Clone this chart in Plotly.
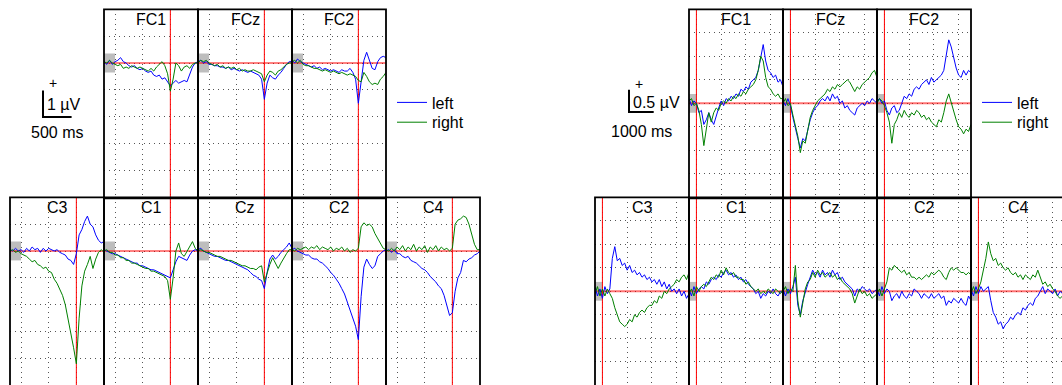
import plotly.graph_objects as go

# ---------------- data ----------------
# response-locked time axis (s)
T_RESP = [-1.2, -1.15, -1.1, -1.05, -1.0, -0.95, -0.9, -0.85, -0.8, -0.75, -0.7, -0.65,
          -0.6, -0.55, -0.5, -0.45, -0.4, -0.35, -0.3, -0.25, -0.2, -0.15, -0.1, -0.05,
          0.0, 0.05, 0.1, 0.15, 0.2, 0.25, 0.3, 0.35, 0.4, 0.45, 0.5]
# stimulus-locked time axis (s)
T_STIM = [-0.3, -0.2, -0.1, 0.0, 0.1, 0.2, 0.3, 0.4, 0.5, 0.6, 0.7, 0.8, 0.9, 1.0,
          1.1, 1.2, 1.3, 1.4, 1.5, 1.6, 1.7, 1.8, 1.9, 2.0, 2.1, 2.2, 2.3, 2.4, 2.5,
          2.6, 2.7, 2.8, 2.9, 3.0, 3.1, 3.2, 3.3, 3.4, 3.5]

SERIES_NAMES = ["left", "right"]

# response-locked ERPs (uV): _L = left, _R = right
RESP_FC1_L = [0.05, -0.05, 0.1, -0.05, 0.05, 0.1, 0.2, 0.05, 0.0, -0.1, -0.15, -0.1, -0.2, -0.25, -0.2, -0.3, -0.35, -0.3, -0.45, -0.5, -0.45, -0.6, -0.55, -0.7, -0.85, -0.75, -0.65, -0.75, -0.7, -0.65, -0.7, -0.45, -0.15, 0.0, 0.05]
RESP_FC1_R = [0.05, 0.0, 0.1, 0.0, -0.05, -0.1, -0.05, -0.2, -0.15, -0.2, -0.1, -0.15, -0.2, -0.15, -0.2, -0.25, -0.3, -0.2, -0.3, -0.15, -0.05, 0.05, -0.1, -0.4, -1.05, -0.6, 0.0, -0.1, -0.3, -0.15, -0.1, -0.2, -0.05, 0.0, 0.0]
RESP_FCz_L = [0.05, 0.1, 0.0, 0.05, -0.05, -0.05, -0.1, -0.1, -0.15, -0.15, -0.2, -0.15, -0.25, -0.2, -0.25, -0.3, -0.25, -0.3, -0.35, -0.3, -0.35, -0.4, -0.45, -0.6, -1.35, -0.75, -0.45, -0.55, -0.6, -0.45, -0.35, -0.2, -0.05, 0.05, 0.05]
RESP_FCz_R = [0.0, 0.1, 0.05, 0.1, 0.0, -0.05, -0.1, -0.05, -0.15, -0.1, -0.2, -0.15, -0.2, -0.15, -0.25, -0.2, -0.3, -0.25, -0.3, -0.3, -0.25, -0.3, -0.35, -0.4, -0.7, -0.45, -0.3, -0.35, -0.45, -0.3, -0.25, -0.15, -0.05, 0.0, 0.0]
RESP_FC2_L = [0.1, 0.0, 0.15, 0.05, 0.0, -0.05, -0.1, -0.15, -0.1, -0.2, -0.15, -0.25, -0.2, -0.25, -0.3, -0.25, -0.3, -0.35, -0.25, -0.3, -0.3, -0.2, -0.35, -0.6, -1.5, -0.7, 0.1, 0.4, 0.1, -0.2, -0.25, 0.05, 0.2, 0.25, 0.2]
RESP_FC2_R = [0.05, 0.1, 0.0, 0.1, -0.05, -0.1, -0.1, -0.15, -0.2, -0.2, -0.25, -0.3, -0.25, -0.3, -0.35, -0.3, -0.35, -0.4, -0.35, -0.4, -0.45, -0.4, -0.45, -0.5, -0.65, -0.7, -0.35, -0.5, -0.7, -0.8, -0.75, -0.8, -0.6, -0.5, -0.35]
RESP_C3_L = [0.05, 0.0, 0.1, 0.0, 0.05, -0.05, 0.1, 0.0, 0.15, 0.05, 0.1, -0.05, 0.1, 0.0, 0.1, 0.05, 0.0, 0.05, -0.05, -0.1, -0.15, -0.3, -0.35, -0.5, -0.1, 0.6, 0.8, 1.1, 1.3, 1.0, 0.9, 0.6, 0.4, 0.3, 0.35]
RESP_C3_R = [0.0, 0.05, -0.05, 0.0, -0.1, -0.15, -0.2, -0.3, -0.4, -0.35, -0.5, -0.55, -0.65, -0.6, -0.75, -0.8, -1.05, -1.2, -1.4, -1.65, -2.0, -2.5, -3.0, -3.6, -4.2, -2.5, -1.3, -0.75, -0.5, -0.2, -0.65, -0.3, -0.05, 0.05, -0.05]
RESP_C1_L = [0.05, 0.0, -0.05, -0.1, -0.1, -0.15, -0.2, -0.25, -0.3, -0.35, -0.4, -0.45, -0.45, -0.55, -0.55, -0.6, -0.65, -0.7, -0.7, -0.75, -0.8, -0.85, -0.9, -0.95, -1.0, -0.7, -0.4, -0.2, -0.25, -0.3, -0.35, -0.15, 0.0, 0.05, 0.0]
RESP_C1_R = [0.0, 0.05, -0.05, -0.05, -0.15, -0.15, -0.25, -0.25, -0.35, -0.35, -0.45, -0.45, -0.5, -0.55, -0.6, -0.65, -0.65, -0.75, -0.75, -0.8, -0.85, -0.9, -0.95, -1.1, -1.8, -1.0, 0.0, 0.3, -0.1, -0.2, 0.0, 0.2, 0.35, 0.1, 0.0]
RESP_Cz_L = [0.05, 0.1, 0.0, -0.05, -0.1, -0.15, -0.2, -0.2, -0.25, -0.3, -0.35, -0.35, -0.4, -0.45, -0.5, -0.55, -0.6, -0.65, -0.7, -0.8, -0.9, -0.95, -1.05, -1.1, -1.4, -0.8, -0.3, -0.15, -0.3, -0.2, -0.05, 0.05, 0.15, 0.3, 0.1]
RESP_Cz_R = [0.0, 0.05, 0.0, -0.05, -0.05, -0.1, -0.15, -0.2, -0.2, -0.25, -0.3, -0.35, -0.35, -0.4, -0.45, -0.5, -0.55, -0.55, -0.6, -0.65, -0.65, -0.7, -0.6, -0.55, -1.15, -0.8, -0.5, -0.25, -0.45, -0.65, -0.45, -0.25, -0.1, 0.05, 0.05]
RESP_C2_L = [0.05, 0.1, 0.0, -0.05, -0.1, -0.15, -0.15, -0.25, -0.3, -0.3, -0.4, -0.45, -0.55, -0.65, -0.8, -0.9, -1.05, -1.2, -1.4, -1.6, -1.9, -2.2, -2.5, -2.8, -3.3, -1.7, -0.6, -0.3, -0.5, -0.65, -0.55, -0.2, -0.1, 0.0, 0.05]
RESP_C2_R = [0.05, 0.0, 0.1, 0.05, 0.1, 0.15, 0.05, 0.15, 0.1, 0.2, 0.05, 0.15, 0.1, 0.05, 0.15, 0.0, 0.1, 0.05, 0.15, 0.0, 0.1, -0.05, 0.05, 0.0, 0.1, 0.9, 1.05, 0.95, 1.0, 0.9, 0.65, 0.45, 0.25, 0.1, 0.05]
RESP_C4_L = [0.0, 0.05, -0.05, 0.05, -0.1, -0.1, -0.2, -0.25, -0.2, -0.35, -0.4, -0.45, -0.55, -0.65, -0.7, -0.8, -0.95, -1.05, -1.15, -1.3, -1.4, -1.65, -2.0, -2.4, -2.3, -1.5, -1.0, -0.8, -0.35, -0.4, -0.3, -0.25, -0.15, -0.1, 0.0]
RESP_C4_R = [0.05, 0.0, 0.1, 0.0, 0.15, 0.05, 0.2, 0.0, 0.15, 0.05, 0.25, 0.0, 0.15, 0.05, 0.2, -0.05, 0.15, 0.05, 0.2, 0.0, 0.15, 0.05, 0.1, 0.0, 0.1, 1.0, 1.15, 1.2, 1.3, 1.25, 1.0, 0.6, 0.25, 0.05, 0.05]

# stimulus-locked ERPs (uV)
STIM_FC1_L = [0.1, -0.05, 0.05, 0.0, -0.2, -0.15, -0.45, -0.35, -0.2, -0.35, -0.45, -0.25, -0.1, 0.05, -0.05, 0.1, 0.05, 0.15, 0.1, 0.2, 0.15, 0.3, 0.25, 0.35, 0.3, 0.45, 0.5, 0.55, 0.7, 1.0, 1.25, 0.9, 0.7, 0.65, 0.55, 0.6, 0.45, 0.5, 0.35]
STIM_FC1_R = [0.05, 0.1, -0.05, 0.0, -0.15, -0.45, -0.9, -0.5, -0.2, -0.4, -0.2, -0.1, -0.15, 0.0, 0.05, 0.0, 0.1, 0.05, 0.15, 0.1, 0.2, 0.15, 0.25, 0.2, 0.3, 0.35, 0.4, 0.5, 0.7, 1.0, 0.9, 0.55, 0.35, 0.3, 0.2, 0.15, 0.2, 0.1, 0.1]
STIM_FCz_L = [0.05, -0.05, 0.1, -0.05, -0.3, -0.55, -0.75, -0.95, -0.75, -0.8, -0.55, -0.35, -0.2, -0.1, -0.05, 0.05, 0.1, 0.05, 0.15, 0.05, 0.2, 0.1, 0.15, 0.0, 0.05, -0.1, -0.05, -0.15, -0.2, -0.25, -0.1, -0.05, 0.0, -0.05, 0.05, 0.0, 0.1, 0.05, 0.0]
STIM_FCz_R = [0.0, 0.1, -0.05, 0.0, -0.25, -0.5, -0.7, -1.05, -0.8, -0.85, -0.55, -0.3, -0.15, -0.05, 0.05, 0.1, 0.15, 0.2, 0.3, 0.25, 0.35, 0.3, 0.4, 0.35, 0.4, 0.45, 0.5, 0.45, 0.35, 0.25, 0.35, 0.3, 0.4, 0.45, 0.5, 0.55, 0.65, 0.7, 0.55]
STIM_FC2_L = [0.05, 0.1, 0.0, 0.05, -0.15, -0.25, -0.1, -0.05, -0.2, -0.15, 0.0, 0.15, 0.1, 0.2, 0.15, 0.3, 0.35, 0.3, 0.4, 0.45, 0.5, 0.4, 0.55, 0.45, 0.5, 0.55, 0.6, 0.7, 1.0, 1.35, 1.2, 0.95, 0.75, 0.6, 0.55, 0.7, 0.6, 0.7, 0.65]
STIM_FC2_R = [0.0, 0.1, 0.05, -0.05, -0.2, -0.4, -0.85, -0.45, -0.35, -0.2, -0.3, -0.15, -0.25, -0.3, -0.2, -0.25, -0.15, -0.2, -0.3, -0.25, -0.35, -0.3, -0.4, -0.45, -0.5, -0.35, -0.4, -0.2, 0.05, 0.2, 0.0, -0.15, -0.35, -0.5, -0.55, -0.65, -0.55, -0.6, -0.45]
STIM_C3_L = [0.1, -0.1, 0.05, -0.15, 0.1, -0.05, 0.05, 0.7, 0.95, 0.65, 0.7, 0.55, 0.6, 0.45, 0.55, 0.4, 0.45, 0.35, 0.4, 0.3, 0.35, 0.25, 0.3, 0.2, 0.25, 0.15, 0.25, 0.1, 0.2, 0.05, 0.15, 0.0, 0.05, -0.05, 0.05, -0.1, 0.0, -0.15, -0.05]
STIM_C3_R = [-0.05, 0.1, -0.1, 0.05, -0.1, 0.05, -0.05, -0.15, -0.35, -0.5, -0.65, -0.7, -0.75, -0.7, -0.6, -0.65, -0.5, -0.55, -0.45, -0.4, -0.45, -0.35, -0.3, -0.3, -0.2, -0.25, -0.1, -0.15, 0.0, -0.05, 0.05, 0.1, 0.15, 0.25, 0.2, 0.3, 0.35, 0.25, 0.4]
STIM_C1_L = [0.05, -0.1, 0.1, -0.05, 0.05, 0.1, 0.05, 0.2, 0.15, 0.25, 0.3, 0.25, 0.35, 0.3, 0.4, 0.45, 0.35, 0.4, 0.3, 0.35, 0.25, 0.3, 0.2, 0.25, 0.15, 0.1, 0.05, -0.05, 0.0, -0.15, -0.05, -0.1, 0.0, -0.05, 0.05, -0.05, -0.1, 0.0, -0.05]
STIM_C1_R = [-0.05, 0.05, -0.1, 0.1, 0.0, 0.1, 0.15, 0.1, 0.2, 0.3, 0.25, 0.35, 0.3, 0.45, 0.35, 0.5, 0.4, 0.35, 0.4, 0.3, 0.3, 0.25, 0.25, 0.15, 0.2, 0.1, 0.05, 0.0, 0.05, -0.05, 0.0, -0.05, 0.05, 0.0, -0.05, 0.05, 0.0, -0.05, 0.05]
STIM_Cz_L = [0.05, -0.1, 0.05, -0.05, 0.1, 0.3, -0.3, -0.5, -0.2, 0.0, 0.15, 0.3, 0.45, 0.35, 0.4, 0.3, 0.45, 0.35, 0.4, 0.3, 0.45, 0.35, 0.4, 0.25, 0.3, 0.2, 0.15, 0.1, 0.05, -0.1, 0.05, 0.0, 0.1, 0.05, 0.0, 0.05, -0.05, 0.0, 0.05]
STIM_Cz_R = [0.0, 0.1, -0.05, 0.05, 0.0, 0.55, -0.2, -0.55, -0.25, 0.05, 0.2, 0.25, 0.4, 0.3, 0.45, 0.35, 0.4, 0.3, 0.35, 0.4, 0.3, 0.35, 0.25, 0.3, 0.2, 0.15, 0.1, 0.05, -0.05, -0.25, -0.1, 0.05, -0.05, 0.0, -0.1, -0.05, -0.15, -0.1, -0.05]
STIM_C2_L = [0.05, -0.1, 0.1, -0.05, 0.05, 0.0, -0.2, -0.1, -0.05, -0.15, 0.0, -0.1, -0.15, -0.05, -0.1, 0.05, 0.0, -0.05, -0.15, -0.05, -0.1, -0.15, -0.05, -0.15, -0.1, -0.05, -0.15, -0.1, -0.3, -0.2, -0.25, -0.15, -0.2, -0.25, -0.15, -0.25, -0.3, -0.1, -0.2]
STIM_C2_R = [-0.05, 0.05, -0.1, 0.05, 0.2, 0.5, 0.45, 0.55, 0.5, 0.45, 0.4, 0.45, 0.35, 0.4, 0.3, 0.3, 0.25, 0.3, 0.25, 0.3, 0.35, 0.3, 0.4, 0.35, 0.4, 0.45, 0.4, 0.3, 0.25, 0.4, 0.5, 0.45, 0.5, 0.45, 0.4, 0.4, 0.35, 0.4, 0.35]
STIM_C4_L = [0.05, -0.1, 0.1, -0.05, 0.1, 0.0, 0.05, 0.1, -0.2, -0.45, -0.55, -0.7, -0.65, -0.8, -0.7, -0.65, -0.55, -0.6, -0.5, -0.45, -0.5, -0.35, -0.4, -0.3, -0.25, -0.3, -0.15, -0.1, 0.0, 0.1, -0.05, 0.05, 0.0, -0.05, 0.05, -0.1, 0.0, -0.05, 0.0]
STIM_C4_R = [-0.05, 0.1, -0.05, 0.05, 0.2, 0.45, 0.7, 1.05, 0.8, 0.65, 0.7, 0.55, 0.6, 0.5, 0.45, 0.5, 0.4, 0.35, 0.4, 0.3, 0.35, 0.25, 0.35, 0.3, 0.25, 0.35, 0.3, 0.45, 0.3, 0.15, 0.2, 0.1, 0.15, 0.05, 0.0, -0.1, -0.15, -0.1, -0.2]

# ---------------- layout ----------------
W, H = 1062, 385
FONT = "Liberation Sans, Arial, Helvetica, sans-serif"
BLUE, GREEN, RED = "#0000ff", "#008000", "#ff0000"
TOP_ROW = (9.3, 197.3)
BOT_ROW = (197.3, 385.3)


def px2x(px):
    return px / W


def px2y(py):
    return 1 - py / H


# (label, left px, right px, row, left-hand series, right-hand series)
RESP_PANELS = [
    ("FC1", 104, 198, TOP_ROW, RESP_FC1_L, RESP_FC1_R),
    ("FCz", 198, 292, TOP_ROW, RESP_FCz_L, RESP_FCz_R),
    ("FC2", 292, 386, TOP_ROW, RESP_FC2_L, RESP_FC2_R),
    ("C3", 10, 104, BOT_ROW, RESP_C3_L, RESP_C3_R),
    ("C1", 104, 198, BOT_ROW, RESP_C1_L, RESP_C1_R),
    ("Cz", 198, 292, BOT_ROW, RESP_Cz_L, RESP_Cz_R),
    ("C2", 292, 386, BOT_ROW, RESP_C2_L, RESP_C2_R),
    ("C4", 386, 480, BOT_ROW, RESP_C4_L, RESP_C4_R),
]
STIM_PANELS = [
    ("FC1", 689, 783, TOP_ROW, STIM_FC1_L, STIM_FC1_R),
    ("FCz", 783, 877, TOP_ROW, STIM_FCz_L, STIM_FCz_R),
    ("FC2", 877, 971, TOP_ROW, STIM_FC2_L, STIM_FC2_R),
    ("C3", 595, 689, BOT_ROW, STIM_C3_L, STIM_C3_R),
    ("C1", 689, 783, BOT_ROW, STIM_C1_L, STIM_C1_R),
    ("Cz", 783, 877, BOT_ROW, STIM_Cz_L, STIM_Cz_R),
    ("C2", 877, 971, BOT_ROW, STIM_C2_L, STIM_C2_R),
    ("C4", 971, 1065, BOT_ROW, STIM_C4_L, STIM_C4_R),
]

for _, _, _, _, a, b in RESP_PANELS:
    assert len(a) == len(T_RESP) and len(b) == len(T_RESP)
for _, _, _, _, a, b in STIM_PANELS:
    assert len(a) == len(T_STIM) and len(b) == len(T_STIM)

fig = go.Figure()
layout = {}
shapes = []
annotations = []
counter = [0]


def add_group(panels, t, xr, yr, xtick0, xdtick, ydtick, base_end, base_h,
              legend_ids, hline_color, hline_width):
    first = True
    for label, a, b, row, s_left, s_right in panels:
        counter[0] += 1
        n = counter[0]
        xk = "xaxis" if n == 1 else f"xaxis{n}"
        yk = "yaxis" if n == 1 else f"yaxis{n}"
        xref = "x" if n == 1 else f"x{n}"
        yref = "y" if n == 1 else f"y{n}"
        # clip panels that run past the page edge
        bv = min(b, W)
        x1 = xr[0] + (bv - a) / (b - a) * (xr[1] - xr[0])
        top, bot = row
        botv = min(bot, H)
        y0 = yr[1] - (botv - top) / (bot - top) * (yr[1] - yr[0])
        common = dict(showline=False, showgrid=True, gridcolor="#555555", gridwidth=1,
                      griddash="1px,4px", zeroline=False, showticklabels=False,
                      ticks="", fixedrange=True)
        layout[xk] = dict(domain=[px2x(a), px2x(bv)], range=[xr[0], x1], anchor=yref,
                          tick0=xtick0, dtick=xdtick, **common)
        layout[yk] = dict(domain=[px2y(botv), px2y(top)], range=[y0, yr[1]], anchor=xref,
                          tick0=0, dtick=ydtick, **common)
        # baseline box
        shapes.append(dict(type="rect", xref=xref, yref=yref, x0=xr[0], x1=base_end,
                           y0=-base_h, y1=base_h, fillcolor="#bdbdbd",
                           line=dict(width=0), layer="below"))
        # zero lines
        shapes.append(dict(type="line", xref=xref, yref=yref, x0=xr[0], x1=x1, y0=0, y1=0,
                           line=dict(color=hline_color, width=hline_width), layer="between"))
        shapes.append(dict(type="line", xref=xref, yref=yref, x0=0, x1=0, y0=y0, y1=yr[1],
                           line=dict(color=RED, width=1), layer="between"))
        # panel frame (drawn once per panel in page coordinates)
        shapes.append(dict(type="rect", xref="paper", yref="paper",
                           x0=px2x(a), x1=px2x(b), y0=px2y(bot + 1), y1=px2y(top),
                           line=dict(color="black", width=1.8), fillcolor="rgba(0,0,0,0)",
                           layer="above"))
        for vals, col, nm, lg in ((s_left, BLUE, SERIES_NAMES[0], legend_ids[0]),
                                  (s_right, GREEN, SERIES_NAMES[1], legend_ids[1])):
            fig.add_trace(go.Scatter(x=t, y=vals, xaxis=xref, yaxis=yref, mode="lines",
                                     line=dict(color=col, width=1), name=nm,
                                     showlegend=first, legend=lg,
                                     hoverinfo="skip"))
        first = False
        annotations.append(dict(text=label, x=px2x((a + b) / 2), y=px2y(top + 10),
                                xref="paper", yref="paper",
                                showarrow=False, xanchor="center", yanchor="middle",
                                font=dict(size=16, family=FONT, color="black")))


add_group(RESP_PANELS, T_RESP, (-1.2, 0.5), (-5, 2), -1.0, 0.5, 1, -1.0, 0.35,
          ("legend", "legend2"), RED, 1)
add_group(STIM_PANELS, T_STIM, (-0.3, 3.5), (-2, 2), 0, 1, 0.5, 0.0, 0.2,
          ("legend3", "legend4"), "rgba(255,0,0,0.55)", 2)


def scale_bar(xc, ytop, ybot, xr, plus_xy, vtext, vtext_xy, htext, htext_xy):
    shapes.append(dict(type="line", xref="paper", yref="paper", x0=px2x(xc), x1=px2x(xc),
                       y0=px2y(ytop), y1=px2y(ybot), line=dict(color="black", width=2)))
    shapes.append(dict(type="line", xref="paper", yref="paper", x0=px2x(xc - 1), x1=px2x(xr),
                       y0=px2y(ybot), y1=px2y(ybot), line=dict(color="black", width=2)))
    annotations.append(dict(text="+", x=px2x(plus_xy[0]), y=px2y(plus_xy[1]), xref="paper",
                            yref="paper", showarrow=False, xanchor="center", yanchor="middle",
                            font=dict(size=14, family=FONT, color="black")))
    annotations.append(dict(text=vtext, x=px2x(vtext_xy[0]), y=px2y(vtext_xy[1]), xref="paper",
                            yref="paper", showarrow=False, xanchor="left", yanchor="middle",
                            font=dict(size=16, family=FONT, color="black")))
    annotations.append(dict(text=htext, x=px2x(htext_xy[0]), y=px2y(htext_xy[1]), xref="paper",
                            yref="paper", showarrow=False, xanchor="center", yanchor="middle",
                            font=dict(size=16, family=FONT, color="black")))


scale_bar(43, 90.5, 117, 71.6, (52.5, 82.5), "1 \u00b5V", (45, 105), "500 ms", (57, 132))
scale_bar(629, 89.7, 112, 653.7, (639, 84), "0.5 \u00b5V", (631, 103), "1000 ms", (641, 131))

legend_common = dict(xanchor="left", yanchor="top", bgcolor="rgba(0,0,0,0)", borderwidth=0,
                     tracegroupgap=0, font=dict(size=16, family=FONT, color="black"))
layout["legend"] = dict(x=px2x(392), y=px2y(85.5), **legend_common)
layout["legend2"] = dict(x=px2x(392), y=px2y(105.3), **legend_common)
layout["legend3"] = dict(x=px2x(977), y=px2y(85.5), **legend_common)
layout["legend4"] = dict(x=px2x(977), y=px2y(105.3), **legend_common)

fig.update_layout(width=W, height=H, margin=dict(l=0, r=0, t=0, b=0, pad=0),
                  paper_bgcolor="white", plot_bgcolor="rgba(0,0,0,0)",
                  font=dict(family=FONT, color="black"),
                  shapes=shapes, annotations=annotations, showlegend=True, **layout)

fig.write_html("out.html", config={"displayModeBar": False},
               post_script="document.body.style.margin='0';document.body.style.overflow='hidden';")
